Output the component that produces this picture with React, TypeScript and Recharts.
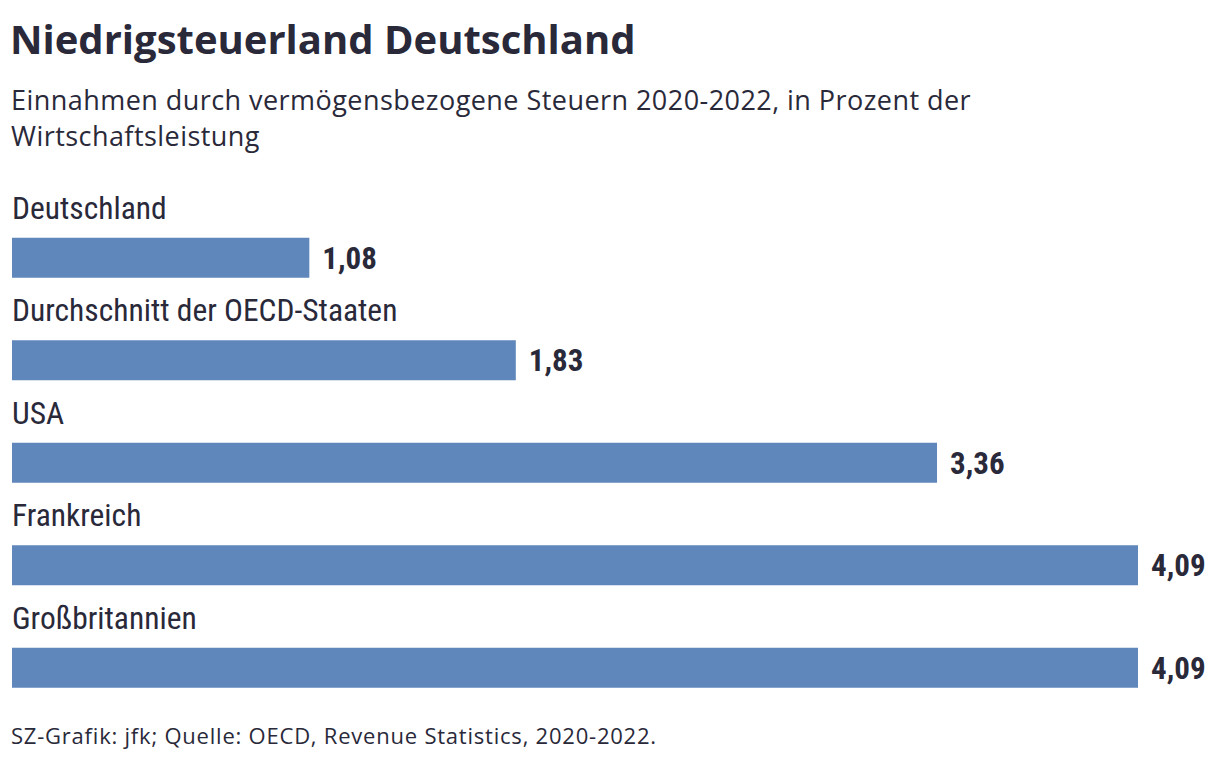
import { BarChart, Bar, XAxis, YAxis, LabelList } from 'recharts';

const countries = ['Deutschland', 'Durchschnitt der OECD-Staaten', 'USA', 'Frankreich', 'Großbritannien'];
const values = [1.08, 1.83, 3.36, 4.09, 4.09];

const data = countries.map((name, i) => ({ name, value: values[i] }));

const ink = '#29293a';
const barColor = '#5f87bb';
const condensed = "'Roboto Condensed', 'Liberation Sans Narrow', 'DejaVu Sans Condensed', 'Open Sans', sans-serif";
const sans = "'Open Sans', 'Noto Sans', sans-serif";

const NameLabel = (props: any) => {
  const { x, y, value } = props;
  return (
    <text x={x} y={y - 19} fill={ink} fontFamily={condensed} fontSize={31.5} style={{ fontStretch: 'condensed' }}>
      {value}
    </text>
  );
};

const ValueLabel = (props: any) => {
  const { x, y, width, height, value } = props;
  return (
    <text
      x={x + width + 13}
      y={y + height / 2 + 11}
      fill={ink}
      fontFamily={condensed}
      fontWeight={700}
      fontSize={31}
      style={{ fontStretch: 'condensed' }}
    >
      {String(value).replace('.', ',')}
    </text>
  );
};

export default function App() {
  return (
    <div style={{ position: 'absolute', left: 0, top: 0, width: 1220, height: 762, background: '#fff', color: ink }}>
      <div style={{ position: 'absolute', left: 10, top: 12, fontFamily: sans, fontWeight: 700, fontSize: 40, lineHeight: '54px' }}>
        Niedrigsteuerland Deutschland
      </div>
      <div style={{ position: 'absolute', left: 11, top: 82, width: 1150, fontFamily: sans, fontSize: 27, lineHeight: '36px', letterSpacing: 0.45 }}>
        Einnahmen durch vermögensbezogene Steuern 2020-2022, in Prozent der
        <br />
        Wirtschaftsleistung
      </div>
      <div style={{ position: 'absolute', left: 0, top: 0 }}>
        <BarChart
          width={1220}
          height={762}
          data={data}
          layout="vertical"
          margin={{ top: 206.75, right: 82, bottom: 42.75, left: 12 }}
        >
          <XAxis type="number" domain={[0, 4.09]} hide />
          <YAxis type="category" dataKey="name" hide />
          <Bar dataKey="value" fill={barColor} barSize={40} isAnimationActive={false}>
            <LabelList dataKey="name" content={NameLabel} />
            <LabelList dataKey="value" content={ValueLabel} />
          </Bar>
        </BarChart>
      </div>
      <div style={{ position: 'absolute', left: 11, top: 720, fontFamily: sans, fontSize: 22, lineHeight: '30px', letterSpacing: 0.78 }}>
        SZ-Grafik: jfk; Quelle: OECD, Revenue Statistics, 2020-2022.
      </div>
    </div>
  );
}
